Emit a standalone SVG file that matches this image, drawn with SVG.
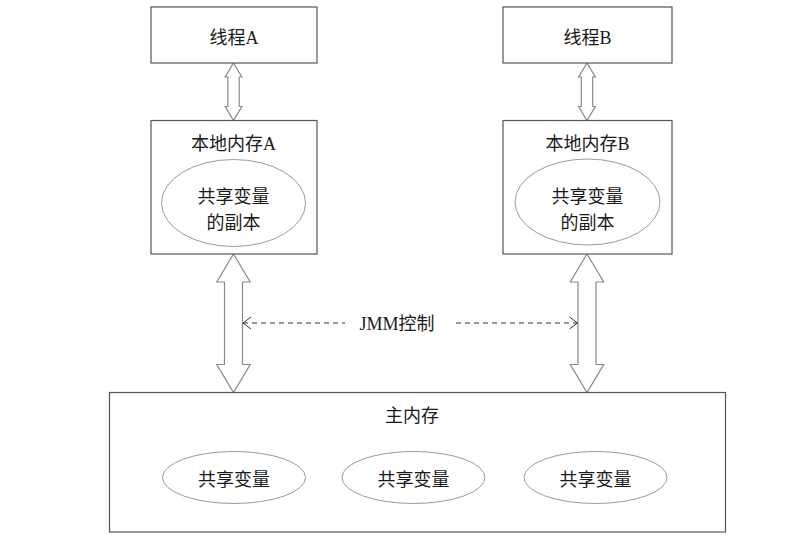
<svg xmlns="http://www.w3.org/2000/svg" width="798" height="552" viewBox="0 0 798 552">
  <style>
    .box { fill: #ffffff; stroke: #555555; stroke-width: 1.2; }
    .ell { fill: #ffffff; stroke: #9a9a9a; stroke-width: 1; }
    .dbl { fill: #ffffff; stroke: #8a8a8a; stroke-width: 1.2; stroke-linejoin: miter; }
    .dash { fill: none; stroke: #333333; stroke-width: 1; stroke-dasharray: 5 4; }
    .chev { fill: none; stroke: #333333; stroke-width: 1; }
    text { font-family: "Liberation Serif", "Noto Sans CJK SC", serif; font-size: 18px; fill: #1a1a1a; text-anchor: middle; }
  </style>
  <rect width="798" height="552" fill="#ffffff"/>

  <g id="connectors">
    <polygon class="dbl" points="233.5,63 241.8,77 239.2,77 239.2,106.5 241.8,106.5 233.5,120.5 225.2,106.5 227.8,106.5 227.8,77 225.2,77"/>
    <polygon class="dbl" points="587,63 595.3,77 592.7,77 592.7,106.5 595.3,106.5 587,120.5 578.7,106.5 581.3,106.5 581.3,77 578.7,77"/>
    <polygon class="dbl" points="233.5,254 250.2,282 242.5,282 242.5,364.5 250.2,364.5 233.5,392.5 216.8,364.5 224.5,364.5 224.5,282 216.8,282"/>
    <polygon class="dbl" points="587,254 603.7,282 596,282 596,364.5 603.7,364.5 587,392.5 570.3,364.5 578,364.5 578,282 570.3,282"/>
    <line class="dash" x1="243" y1="323" x2="345" y2="323"/>
    <polyline class="chev" points="251,317 243,323 251,329"/>
    <line class="dash" x1="456" y1="323" x2="577.5" y2="323"/>
    <polyline class="chev" points="569.5,317 577.5,323 569.5,329"/>
    <text x="397" y="330">JMM控制</text>
  </g>

  <g id="threadA">
    <rect class="box" x="151" y="7" width="166" height="56"/>
    <text x="234" y="44">线程A</text>
  </g>
  <g id="threadB">
    <rect class="box" x="503" y="7" width="169" height="56"/>
    <text x="587.5" y="44">线程B</text>
  </g>

  <g id="localA">
    <rect class="box" x="151" y="120.5" width="166" height="133.5"/>
    <text x="233.5" y="150">本地内存A</text>
    <ellipse class="ell" cx="233.5" cy="203" rx="72" ry="43.5"/>
    <text x="233.5" y="203">共享变量</text>
    <text x="233.5" y="229">的副本</text>
  </g>
  <g id="localB">
    <rect class="box" x="503" y="120.5" width="169" height="133.5"/>
    <text x="587.5" y="150">本地内存B</text>
    <ellipse class="ell" cx="587.5" cy="202" rx="72.5" ry="43"/>
    <text x="587.5" y="203">共享变量</text>
    <text x="587.5" y="229">的副本</text>
  </g>

  <g id="mainMemory">
    <rect class="box" x="109.5" y="392.5" width="616" height="139.5"/>
    <text x="412" y="422">主内存</text>
  </g>
  <g id="shared1">
    <ellipse class="ell" cx="234" cy="477.5" rx="71.5" ry="26"/>
    <text x="234" y="486">共享变量</text>
  </g>
  <g id="shared2">
    <ellipse class="ell" cx="413.5" cy="477.5" rx="71.5" ry="26"/>
    <text x="413.5" y="486">共享变量</text>
  </g>
  <g id="shared3">
    <ellipse class="ell" cx="595.5" cy="477.5" rx="71.5" ry="26"/>
    <text x="595.5" y="486">共享变量</text>
  </g>
</svg>
